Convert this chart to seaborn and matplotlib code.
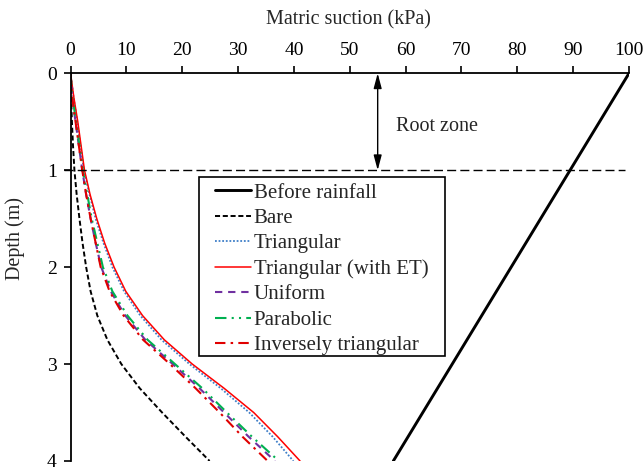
import matplotlib
matplotlib.use("Agg")
import matplotlib.pyplot as plt
from matplotlib.patches import Rectangle
import seaborn as sns
import pandas as pd

sns.set_theme(style="white")
plt.rcParams["font.family"] = ["Liberation Serif", "DejaVu Serif"]

# Depth below ground surface (m)
depth = [0, 0.25, 0.5, 0.75, 1.0, 1.25, 1.5, 1.75, 2.0, 2.25, 2.5, 2.75, 3.0, 3.25, 3.5, 3.75, 4.0]

# Matric suction profiles (kPa)
before_depth = [0, 4.0]
before_rainfall = [100, 57.8]
bare = [0, 0.1, 0.25, 0.45, 0.7, 1.1, 1.6, 2.15, 2.8, 3.6, 4.8, 6.6, 9.1, 12.4, 16.4, 20.6, 24.9]
triangular = [0, 0.55, 1.2, 1.8, 2.4, 3.4, 4.5, 5.9, 7.5, 9.6, 12.5, 16.3, 21.3, 26.9, 32.0, 36.2, 39.9]
triangular_et = [0, 0.6, 1.3, 1.9, 2.5, 3.5, 4.7, 6.1, 7.8, 9.9, 12.9, 16.8, 21.8, 27.5, 32.8, 37.1, 41.1]
uniform = [0, 0.3, 0.9, 1.5, 2.1, 2.8, 3.6, 4.5, 5.5, 7.2, 9.8, 13.4, 18.3, 23.1, 27.5, 31.9, 36.6]
parabolic = [0, 0.35, 1.0, 1.6, 2.2, 3.0, 3.8, 4.8, 5.8, 7.5, 10.2, 13.8, 18.7, 23.6, 28.0, 32.5, 37.3]
inversely_triangular = [0, 0.3, 0.9, 1.5, 2.1, 2.8, 3.6, 4.5, 5.4, 7.0, 9.5, 13.0, 17.8, 22.4, 26.7, 30.8, 35.3]

x_ticks = [0, 10, 20, 30, 40, 50, 60, 70, 80, 90, 100]
y_ticks = [0, 1, 2, 3, 4]

series = [
    ("Before rainfall", before_depth, before_rainfall, "black", "-", 2.1),
    ("Bare", depth, bare, "black", (0, (2.6, 1.4)), 1.4),
    ("Triangular", depth, triangular, "#3F7FC8", (0, (1, 1)), 1.3),
    ("Triangular (with ET)", depth, triangular_et, "#FF0000", "-", 1.1),
    ("Uniform", depth, uniform, "#7030A0", (0, (3.5, 2.8)), 1.5),
    ("Parabolic", depth, parabolic, "#00B050", (0, (5.5, 2.5, 1, 2.5, 1, 2.5)), 1.5),
    ("Inversely triangular", depth, inversely_triangular, "#E00000", (0, (5, 2.5, 1.2, 2.5)), 1.5),
]

fig = plt.figure(figsize=(6.44, 4.69), dpi=100)
ax = fig.add_axes([0.1095, 0.0171, 0.8672, 0.8266])

for name, d, s, color, ls, lw in series:
    df = pd.DataFrame({"suction": s, "depth": d})
    sns.lineplot(data=df, x="suction", y="depth", orient="y", ax=ax,
                 color=color, linestyle=ls, lw=lw, label=name)

# Boundary of the root zone
ax.plot([-1.2, 99.3], [1, 1], color="black", lw=1.0, linestyle=(0, (6.5, 3)), clip_on=False)
ax.annotate("", xy=(55, 0), xytext=(55, 1),
            arrowprops=dict(arrowstyle="<|-|>,head_width=0.2,head_length=0.75",
                            color="black", lw=1.0, shrinkA=0, shrinkB=0))
ax.text(58.2, 0.55, "Root zone", fontsize=14.5, ha="left", va="center")

ax.set_xlim(0, 100)
ax.set_ylim(4, 0)
ax.set_xticks(x_ticks)
ax.set_yticks(y_ticks)
ax.xaxis.tick_top()
ax.xaxis.set_label_position("top")
ax.set_xlabel("Matric suction (kPa)", fontsize=14.5)
ax.set_ylabel("Depth (m)", fontsize=14.5)
ax.xaxis.set_label_coords(0.497, 1.138)
ax.yaxis.set_label_coords(-0.0997, 0.575)
for lbl in (ax.xaxis.label, ax.yaxis.label):
    lbl.set_verticalalignment("center")
ax.tick_params(axis="both", labelsize=14, direction="out", length=5, width=1.2,
               colors="black", pad=5)
ax.tick_params(axis="x", top=True, bottom=False)
ax.tick_params(axis="y", left=True)

for side in ["right", "bottom"]:
    ax.spines[side].set_visible(False)
for side in ["top", "left"]:
    ax.spines[side].set_color("black")
    ax.spines[side].set_linewidth(1.3)

leg = ax.legend(loc="upper left", bbox_to_anchor=(0.259, 0.717), borderaxespad=0,
                fontsize=15, frameon=False, handlelength=1.7, handletextpad=0.15,
                labelspacing=0.28, borderpad=0)
ax.add_patch(Rectangle((0.2297, 0.2708), 0.4403, 0.4617, transform=ax.transAxes,
                       fill=False, edgecolor="black", lw=1.2, zorder=5))

fig.savefig("out.png", dpi=100)
